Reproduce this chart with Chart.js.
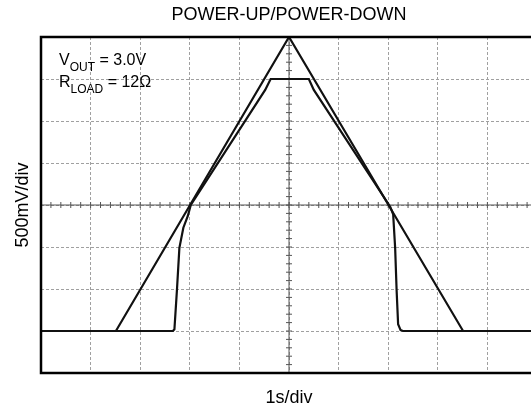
<!DOCTYPE html>
<html lang="en">
<head>
    <meta charset="UTF-8">
    <title>Power-Up/Power-Down</title>
    <style>
        html, body {
            margin: 0;
            overflow: hidden;
            background-color: #fff;
        }
        /* plot frame runs a few px past the right edge of the window, as in the scan */
        .chart-box {
            width: 537px;
            height: 409px;
        }
    </style>
    <script src="https://cdn.jsdelivr.net/npm/chart.js"></script>
</head>
<body>
    <div class="chart-box">
        <canvas id="scopeChart"></canvas>
    </div>

    <script>
        // input ramp (triangle), time in s, volts
        const inputTime = [0, 1.51, 5.0, 8.51, 10];
        const inputVolt = [0, 0, 3.5, 0, 0];

        // regulator output
        const outputTime = [0, 2.66, 2.69, 2.74, 2.79, 2.87, 2.96, 3.02, 4.52, 4.63, 5.40, 5.50, 7.04, 7.10, 7.14, 7.17, 7.20, 7.25, 7.30, 10];
        const outputVolt = [0, 0, 0.02, 0.48, 0.99, 1.23, 1.37, 1.50, 2.87, 3.0, 3.0, 2.87, 1.48, 1.39, 0.99, 0.48, 0.08, 0.01, 0, 0];

        const timeRange = [0, 10];
        const voltRange = [-0.5, 3.5];
        const voltCenter = 1.5;
        const timeCenter = 5;

        const fontFamily = '"Liberation Sans", Arial, sans-serif';

        function toPoints(xs, ys) {
            return xs.map((x, i) => ({ x: x, y: ys[i] }));
        }

        // center crosshair with minor ticks, like a scope graticule
        const graticule = {
            id: 'graticule',
            beforeDatasetsDraw(chart) {
                const ctx = chart.ctx;
                const x = chart.scales.x;
                const y = chart.scales.y;
                const cx = x.getPixelForValue(timeCenter);
                const cy = y.getPixelForValue(voltCenter);
                const area = chart.chartArea;

                ctx.save();
                ctx.strokeStyle = '#555';
                ctx.lineWidth = 1;
                ctx.beginPath();
                ctx.moveTo(area.left, cy);
                ctx.lineTo(area.right, cy);
                ctx.moveTo(cx, area.top);
                ctx.lineTo(cx, area.bottom);

                for (let i = 0; i <= 50; i++) {
                    const px = x.getPixelForValue(timeRange[0] + i * 0.2);
                    ctx.moveTo(px, cy - 3);
                    ctx.lineTo(px, cy + 3);
                }
                for (let i = 0; i <= 40; i++) {
                    const py = y.getPixelForValue(voltRange[0] + i * 0.1);
                    ctx.moveTo(cx - 3, py);
                    ctx.lineTo(cx + 3, py);
                }
                ctx.stroke();
                ctx.restore();
            },
            afterDraw(chart) {
                const ctx = chart.ctx;
                const area = chart.chartArea;

                ctx.save();
                ctx.strokeStyle = '#000';
                ctx.lineWidth = 2.5;
                ctx.strokeRect(area.left, area.top, area.right - area.left, area.bottom - area.top);

                // conditions note
                const x0 = area.left + 18;
                ctx.fillStyle = '#000';
                ctx.textBaseline = 'alphabetic';
                drawSub(ctx, 'V', 'OUT', ' = 3.0V', x0, area.top + 28);
                drawSub(ctx, 'R', 'LOAD', ' = 12\u03A9', x0, area.top + 50);
                ctx.restore();
            }
        };

        function drawSub(ctx, main, sub, rest, x, y) {
            ctx.font = '16px ' + fontFamily;
            ctx.fillText(main, x, y);
            x += ctx.measureText(main).width;
            ctx.font = '12px ' + fontFamily;
            ctx.fillText(sub, x, y + 6);
            x += ctx.measureText(sub).width;
            ctx.font = '16px ' + fontFamily;
            ctx.fillText(rest, x, y);
        }

        const ctx = document.getElementById('scopeChart').getContext('2d');

        new Chart(ctx, {
            type: 'scatter',
            data: {
                datasets: [{
                    label: 'Input',
                    data: toPoints(inputTime, inputVolt),
                    showLine: true,
                    borderColor: '#111',
                    borderWidth: 2.2,
                    pointRadius: 0
                }, {
                    label: 'Output',
                    data: toPoints(outputTime, outputVolt),
                    showLine: true,
                    borderColor: '#111',
                    borderWidth: 2.2,
                    pointRadius: 0
                }]
            },
            options: {
                responsive: true,
                maintainAspectRatio: false,
                animation: false,
                layout: {
                    padding: { left: 0, right: 0, top: 0, bottom: 0 }
                },
                plugins: {
                    legend: { display: false },
                    tooltip: { enabled: false },
                    title: {
                        display: true,
                        text: 'POWER-UP/POWER-DOWN',
                        fullSize: false,
                        color: '#000',
                        font: { family: fontFamily, size: 18, weight: 'normal' },
                        padding: { top: 4, bottom: 11.4 }
                    }
                },
                scales: {
                    x: {
                        type: 'linear',
                        min: timeRange[0],
                        max: timeRange[1],
                        ticks: { display: false, stepSize: 1 },
                        grid: {
                            color: '#a0a0a0',
                            lineWidth: 1,
                            drawTicks: false
                        },
                        border: { display: false, dash: [3, 2] },
                        title: {
                            display: true,
                            text: '1s/div',
                            color: '#000',
                            font: { family: fontFamily, size: 18 },
                            padding: { top: 14.4, bottom: 0 }
                        }
                    },
                    y: {
                        min: voltRange[0],
                        max: voltRange[1],
                        ticks: { display: false, stepSize: 0.5 },
                        grid: {
                            color: '#a0a0a0',
                            lineWidth: 1,
                            drawTicks: false
                        },
                        border: { display: false, dash: [3, 2] },
                        title: {
                            display: true,
                            text: '500mV/div',
                            color: '#000',
                            font: { family: fontFamily, size: 18 },
                            padding: { top: 12, bottom: 7.4 }
                        }
                    }
                }
            },
            plugins: [graticule]
        });
    </script>
</body>
</html>
